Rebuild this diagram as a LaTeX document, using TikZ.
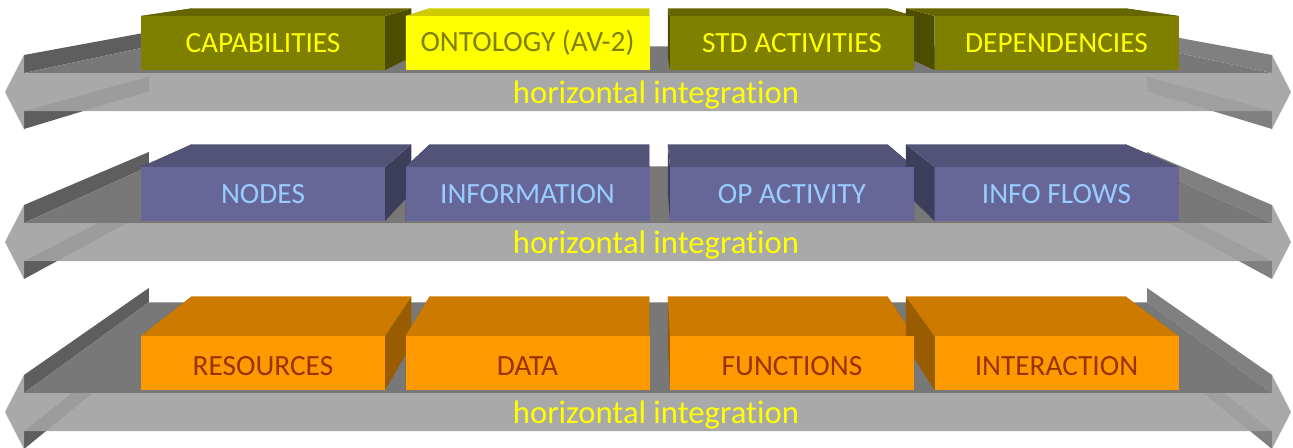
\documentclass[tikz,border=0pt]{standalone}
\usepackage{fontspec}
\setmainfont{Carlito}[Ligatures=NoCommon]
\usepackage{tikz}
\usetikzlibrary{calc}

\definecolor{olivefront}{HTML}{808000}
\definecolor{olivetop}{HTML}{666600}
\definecolor{oliveside}{HTML}{4D4D00}
\definecolor{lemonfront}{HTML}{FFFF00}
\definecolor{lemontop}{HTML}{CCCC00}
\definecolor{lemonside}{HTML}{999900}
\definecolor{slatefront}{HTML}{666699}
\definecolor{slatetop}{HTML}{535378}
\definecolor{slateside}{HTML}{3D3D5C}
\definecolor{amberfront}{HTML}{FF9900}
\definecolor{ambertop}{HTML}{CC7A00}
\definecolor{amberside}{HTML}{995C00}
\definecolor{skytext}{HTML}{99CCFF}
\definecolor{rusttext}{HTML}{993300}
\definecolor{bandgray}{HTML}{A2A2A2}
\definecolor{deckgray}{HTML}{787878}
\definecolor{walldark}{HTML}{5E5E5E}
\definecolor{walllight}{HTML}{808080}

\begin{document}
\begin{tikzpicture}[x=0.75pt, y=-0.75pt,
    box/.style={minimum width=183pt, minimum height=40.5pt, inner sep=0pt,
      font=\fontsize{22}{22}\selectfont},
    lowbox/.style={box, fill=amberfront, text=rusttext, text height=18.7pt},
    flow/.style={inner sep=0pt, text=lemonfront, font=\fontsize{24.5}{24.5}\selectfont},
    band/.style={fill=bandgray, fill opacity=0.92}]
      \useasboundingbox (0,0) rectangle (1293,447);
      \coordinate (vp) at (648,-60);

      % the three double arrows
      \foreach \yc in {92,242,412}{
        \coordinate (lt) at (24,{\yc-37});
        \coordinate (lu) at (24,{\yc-19});
        \coordinate (ld) at (24,{\yc+19});
        \coordinate (lb) at (24,{\yc+37});
        \coordinate (rt) at (1272,{\yc-37});
        \coordinate (ru) at (1272,{\yc-19});
        \coordinate (rd) at (1272,{\yc+19});
        \coordinate (rb) at (1272,{\yc+37});
        \fill[walldark] (ld) -- (lb) -- ($(lb)!0.2!(vp)$) -- ($(ld)!0.2!(vp)$) -- cycle;
        \fill[walllight] (rd) -- (rb) -- ($(rb)!0.2!(vp)$) -- ($(rd)!0.2!(vp)$) -- cycle;
        \fill[walldark] (lt) -- (lu) -- ($(lu)!0.2!(vp)$) -- ($(lt)!0.2!(vp)$) -- cycle;
        \fill[walllight] (rt) -- (ru) -- ($(ru)!0.2!(vp)$) -- ($(rt)!0.2!(vp)$) -- cycle;
        \fill[deckgray] (lu) -- (ru) -- ($(ru)!0.2!(vp)$) -- ($(lu)!0.2!(vp)$) -- cycle;
        \fill[band] (5,\yc) -- (lt) -- (lu) -- (ru) -- (rt) -- (1291,\yc)
          -- (rb) -- (rd) -- (ld) -- (lb) -- cycle;
      }

      % sides and tops of the boxes
      \foreach \x/\y/\ct/\cs in {263/43/olivetop/oliveside, 527.5/43/lemontop/lemonside,
          792/43/olivetop/oliveside, 1056.5/43/olivetop/oliveside,
          263/194/slatetop/slateside, 527.5/194/slatetop/slateside,
          792/194/slatetop/slateside, 1056.5/194/slatetop/slateside,
          263/363/ambertop/amberside, 527.5/363/ambertop/amberside,
          792/363/ambertop/amberside, 1056.5/363/ambertop/amberside}{
        \coordinate (p1) at ({\x-122},{\y-27});
        \coordinate (p2) at ({\x+122},{\y-27});
        \coordinate (p3) at ({\x+122},{\y+27});
        \coordinate (p4) at ({\x-122},{\y+27});
        \fill[\cs] (p1) -- (p4) -- ($(p4)!0.1!(vp)$) -- ($(p1)!0.1!(vp)$) -- cycle;
        \fill[\cs] (p2) -- (p3) -- ($(p3)!0.1!(vp)$) -- ($(p2)!0.1!(vp)$) -- cycle;
        \fill[\ct] (p1) -- (p2) -- ($(p2)!0.1!(vp)$) -- ($(p1)!0.1!(vp)$) -- cycle;
      }

      \node[box, fill=olivefront, text=lemonfront] (cap) at (263,43) {CAPABILITIES};
      \node[box, fill=lemonfront, text=olivefront] (ont) at (527.5,43) {ONTOLOGY (AV-2)};
      \node[box, fill=olivefront, text=lemonfront] (std) at (792,43) {STD ACTIVITIES};
      \node[box, fill=olivefront, text=lemonfront] (dep) at (1056.5,43) {DEPENDENCIES};

      \node[box, fill=slatefront, text=skytext] (nodes) at (263,194) {NODES};
      \node[box, fill=slatefront, text=skytext] (info) at (527.5,194) {INFORMATION};
      \node[box, fill=slatefront, text=skytext] (opact) at (792,194) {OP ACTIVITY};
      \node[box, fill=slatefront, text=skytext] (flows) at (1056.5,194) {INFO FLOWS};

      \node[lowbox] (res) at (263,363) {RESOURCES};
      \node[lowbox] (data) at (527.5,363) {DATA};
      \node[lowbox] (func) at (792,363) {FUNCTIONS};
      \node[lowbox] (inter) at (1056.5,363) {INTERACTION};

      \node[flow] (hint1) at (656,95) {horizontal integration};
      \node[flow] (hint2) at (656,245) {horizontal integration};
      \node[flow] (hint3) at (656,415) {horizontal integration};
    \end{tikzpicture}
\end{document}
